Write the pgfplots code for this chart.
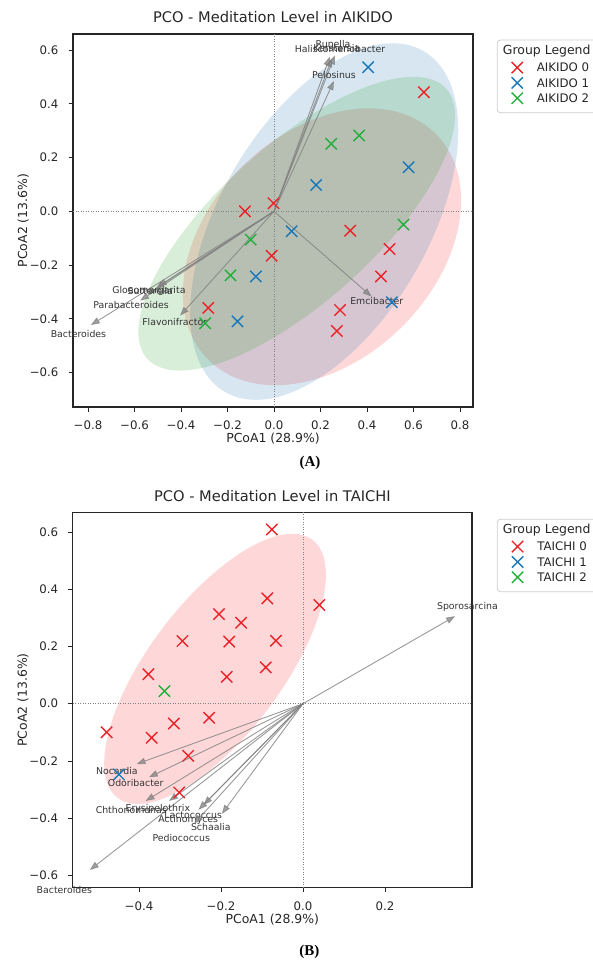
\documentclass[border=0pt]{standalone}
\usepackage{fontspec}
\setmainfont{DejaVu Sans}
\newfontfamily\serifA{Liberation Serif}
\usepackage{pgfplots}
\pgfplotsset{compat=1.18}
\usetikzlibrary{arrows.meta}

\definecolor{cR}{RGB}{235,35,40}
\definecolor{cB}{RGB}{25,120,185}
\definecolor{cG}{RGB}{35,175,60}
\definecolor{eR}{RGB}{250,40,40}
\definecolor{eB}{RGB}{31,119,180}
\definecolor{eG}{RGB}{44,160,44}

% confidence ellipse: centre (#1,#2), conjugate semi-axes (#3,#4) and (#5,#6), colour #7
\newcommand{\confell}[7]{%
  \pgfplotsextra{\begin{pgfscope}%
    \pgfpathellipse{\pgfplotspointaxisxy{#1}{#2}}{\pgfplotspointaxisdirectionxy{#3}{#4}}{\pgfplotspointaxisdirectionxy{#5}{#6}}%
    \pgfsetfillcolor{#7}\pgfsetfillopacity{0.18}\pgfusepath{fill}\end{pgfscope}}}
% biplot arrow: tip (#1,#2), label (#3,#4), name #5
\newcommand{\bi}[5]{%
  \draw[arrowc] (axis cs:0,0) -- (axis cs:#1,#2);
  \node[lab] at (axis cs:#3,#4) {#5};}

\tikzset{
  arrowc/.style={draw=gray, fill=gray, opacity=0.75, line width=0.9bp, -{Triangle[length=9bp,width=6.5bp]}},
  lab/.style={font=\fontsize{9.4}{11}\selectfont, text=black!80, inner sep=0pt},
  zero/.style={gray, line width=0.7bp, dash pattern=on 1bp off 1.5bp},
}

\pgfplotsset{
  pcoa/.style={
    scale only axis, anchor=north west, clip=false,
    axis line style={line width=1.2bp, black!85},
    tick style={line width=0.9bp, black!85},
    major tick length=4.5bp, tick align=outside,
    xtick pos=left, ytick pos=left,
    ticklabel style={font=\fontsize{11.8}{14}\selectfont, text=black!85},
    xticklabel style={anchor=center, yshift=-14.2bp},
    yticklabel style={anchor=east, inner sep=0pt, xshift=-10bp},
    label style={font=\fontsize{12.5}{14}\selectfont, text=black!85},
    xlabel style={at={(0.5,0)}, anchor=center, yshift=-31.4bp},
    ylabel style={at={(0,0.5)}, anchor=center, yshift=49.7bp},
    title style={font=\fontsize{14.7}{17}\selectfont, text=black!85, at={(0.5,1)}, anchor=center, yshift=11bp},
    legend cell align=left,
    legend style={draw=none, fill=none, inner sep=0pt, outer sep=0pt,
      row sep=4.0bp, column sep=14bp,
      font=\fontsize{11.8}{13}\selectfont, text=black!85,
      nodes={inner sep=0pt, text height=8.6bp, text depth=0bp}},
    legend image code/.code={\draw plot coordinates {(0bp,0bp)};},
    xlabel={PCoA1 (28.9\%)}, ylabel={PCoA2 (13.6\%)},
  },
  grp/.style={only marks, mark=x, mark size=8bp, mark options={line width=1.4bp}, #1},
}

\begin{document}
\begin{tikzpicture}
\path[use as bounding box] (0,0) rectangle (593bp,-961bp);
\clip (0,0) rectangle (593bp,-961bp);

% legend frames
\draw[rounded corners=3bp, draw=black!20, line width=0.8bp, fill=white] (497.3bp,-40bp) rectangle (620bp,-112.7bp);
\draw[rounded corners=3bp, draw=black!20, line width=0.8bp, fill=white] (497.3bp,-519.3bp) rectangle (620bp,-591.7bp);

%================ (A) AIKIDO
\begin{axis}[pcoa, at={(73bp,-34bp)}, width=400bp, height=373bp,
  xmin=-0.8645, xmax=0.856, ymin=-0.7276, ymax=0.6595,
  xtick={-0.8,-0.6,-0.4,-0.2,0,0.2,0.4,0.6,0.8},
  xticklabels={−0.8,−0.6,−0.4,−0.2,0.0,0.2,0.4,0.6,0.8},
  ytick={-0.6,-0.4,-0.2,0,0.2,0.4,0.6},
  yticklabels={−0.6,−0.4,−0.2,0.0,0.2,0.4,0.6},
  title={PCO - Meditation Level in AIKIDO},
  legend style={at={(1.0965,0.9251)}, anchor=north west},
]
\confell{0.2064}{-0.1317}{0.5982}{0.1723}{0}{0.4850}{eR}
\confell{0.2161}{-0.0379}{0.5765}{0.3390}{0}{0.5698}{eB}
\confell{0.0977}{-0.0458}{0.6812}{0.4024}{0}{0.3695}{eG}
\draw[zero] (axis cs:0,-0.7276) -- (axis cs:0,0.6595);
\draw[zero] (axis cs:-0.8645,0) -- (axis cs:0.856,0);
\bi{0.240}{0.575}{0.254}{0.621}{Runella}
\bi{0.262}{0.580}{0.284}{0.604}{Haliscomenobacter}
\bi{0.250}{0.570}{0.270}{0.606}{Kerstersia}
\bi{0.258}{0.485}{0.258}{0.507}{Pelosinus}
\bi{-0.788}{-0.423}{-0.841}{-0.456}{Bacteroides}
\bi{-0.576}{-0.332}{-0.615}{-0.348}{Parabacteroides}
\bi{-0.500}{-0.280}{-0.538}{-0.295}{Gloeomargarita}
\bi{-0.510}{-0.288}{-0.532}{-0.295}{Sutterella}
\bi{-0.404}{-0.388}{-0.427}{-0.410}{Flavonifractor}
\bi{0.420}{-0.317}{0.442}{-0.332}{Emcibacter}
\addplot[grp=cR] coordinates {(0.645,0.443) (-0.125,0.000) (-0.002,0.030) (0.328,-0.072) (0.497,-0.140) (-0.010,-0.165) (0.460,-0.242) (-0.283,-0.359) (0.284,-0.367) (0.270,-0.445)};
\addlegendentry{AIKIDO 0}
\addplot[grp=cB] coordinates {(0.405,0.536) (0.579,0.164) (0.181,0.098) (0.076,-0.074) (-0.078,-0.242) (0.507,-0.338) (-0.157,-0.409)};
\addlegendentry{AIKIDO 1}
\addplot[grp=cG] coordinates {(0.366,0.282) (0.246,0.251) (0.557,-0.049) (-0.100,-0.105) (-0.187,-0.238) (-0.296,-0.416)};
\addlegendentry{AIKIDO 2}
\end{axis}

%================ (B) TAICHI
\begin{axis}[pcoa, at={(72.7bp,-512.3bp)}, width=399.3bp, height=375.4bp,
  xmin=-0.5617, xmax=0.4122, ymin=-0.6429, ymax=0.6688,
  xtick={-0.4,-0.2,0,0.2},
  xticklabels={−0.4,−0.2,0.0,0.2},
  ytick={-0.6,-0.4,-0.2,0,0.2,0.4,0.6},
  yticklabels={−0.6,−0.4,−0.2,0.0,0.2,0.4,0.6},
  title={PCO - Meditation Level in TAICHI},
  title style={yshift=-0.6bp},
  legend style={at={(1.1000,0.9237)}, anchor=north west},
]
\confell{-0.2145}{0.1217}{0.2704}{0.3291}{0}{0.3383}{eR}
\draw[zero] (axis cs:0,-0.6429) -- (axis cs:0,0.6688);
\draw[zero] (axis cs:-0.5617,0) -- (axis cs:0.4122,0);
\bi{0.371}{0.306}{0.401}{0.337}{Sporosarcina}
\bi{-0.520}{-0.581}{-0.582}{-0.652}{Bacteroides}
\bi{-0.406}{-0.211}{-0.454}{-0.235}{Nocardia}
\bi{-0.376}{-0.257}{-0.408}{-0.277}{Odoribacter}
\bi{-0.384}{-0.340}{-0.419}{-0.371}{Chthonomonas}
\bi{-0.327}{-0.340}{-0.354}{-0.366}{Erysipelothrix}
\bi{-0.243}{-0.354}{-0.268}{-0.389}{Lactococcus}
\bi{-0.255}{-0.371}{-0.280}{-0.406}{Actinomyces}
\bi{-0.198}{-0.385}{-0.225}{-0.430}{Schaalia}
\bi{-0.266}{-0.420}{-0.297}{-0.470}{Pediococcus}
\addplot[grp=cR] coordinates {(-0.076,0.609) (-0.087,0.368) (0.040,0.345) (-0.205,0.313) (-0.151,0.283) (-0.294,0.219) (-0.180,0.217) (-0.066,0.220) (-0.091,0.127) (-0.186,0.094) (-0.377,0.103) (-0.479,-0.100) (-0.315,-0.069) (-0.229,-0.049) (-0.369,-0.119) (-0.280,-0.182) (-0.302,-0.310)};
\addlegendentry{TAICHI 0}
\addplot[grp=cB] coordinates {(-0.449,-0.247)};
\addlegendentry{TAICHI 1}
\addplot[grp=cG] coordinates {(-0.338,0.044)};
\addlegendentry{TAICHI 2}
\end{axis}

% legend titles
\node[anchor=west, inner sep=0pt, font=\fontsize{12.5}{14}\selectfont, text=black!85] at (502.7bp,-51bp) {Group Legend};
\node[anchor=west, inner sep=0pt, font=\fontsize{12.5}{14}\selectfont, text=black!85] at (502.7bp,-529.8bp) {Group Legend};

% panel letters
\node[font=\serifA\bfseries\fontsize{15}{17}\selectfont] at (310bp,-462.5bp) {(A)};
\node[font=\serifA\bfseries\fontsize{15}{17}\selectfont] at (309.3bp,-951.5bp) {(B)};
\end{tikzpicture}
\end{document}
